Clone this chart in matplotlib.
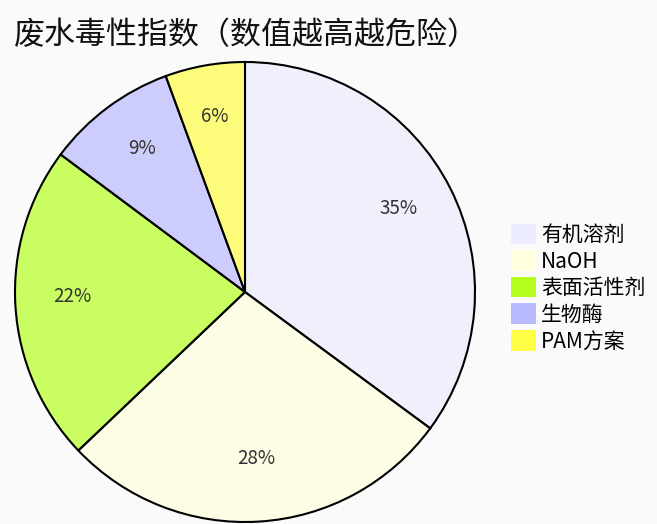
import matplotlib
matplotlib.use("Agg")
import matplotlib.pyplot as plt
from matplotlib.colors import to_rgba
from matplotlib.patches import Patch

plt.rcParams['font.family'] = ['Noto Sans CJK SC', 'DejaVu Sans']

# data
title = "废水毒性指数（数值越高越危险）"
labels = ["有机溶剂", "NaOH", "表面活性剂", "生物酶", "PAM方案"]
values = [35.1, 27.8, 22.3, 9.2, 5.6]

# styling (mermaid-like default palette)
legend_colors = ["#ECECFF", "#FFFFDE", "#B5FF20", "#B9B9FF", "#FFFF45"]
bg = "#FAFAFA"

W, H = 657, 524
fig = plt.figure(figsize=(W / 100, H / 100), dpi=100, facecolor=bg)

# pie centre (245, 292) px from top-left, radius 230 px
cx, cy, r = 245, 292, 230
ax = fig.add_axes([(cx - r) / W, (H - cy - r) / H, 2 * r / W, 2 * r / H])
ax.set_facecolor(bg)

slice_colors = [to_rgba(c, 0.7) for c in legend_colors]
wedges, texts, autotexts = ax.pie(
    values,
    colors=slice_colors,
    startangle=90,
    counterclock=False,
    autopct='%.0f%%',
    pctdistance=0.75,
    wedgeprops=dict(edgecolor='black', linewidth=1.5, clip_on=False),
    textprops=dict(fontsize=13.5, color='#333333'),
)
for t in autotexts:
    t.set_va('baseline')

ax.set_xlim(-1, 1)
ax.set_ylim(-1, 1)
ax.set_aspect('equal')
ax.axis('off')

handles = [Patch(facecolor=c, edgecolor='none') for c in legend_colors]
fig.legend(
    handles, labels,
    loc='center left',
    bbox_to_anchor=(511 / W, 1 - 288 / H),
    frameon=False,
    fontsize=15,
    handlelength=1.2,
    handleheight=1.15,
    handletextpad=0.25,
    labelspacing=0.2,
    borderpad=0,
    borderaxespad=0,
)

fig.text(14 / W, 1 - 36 / H, title, fontsize=22.3, ha='left', va='center', color='#111111')

fig.savefig("out.png", dpi=100, facecolor=bg)
